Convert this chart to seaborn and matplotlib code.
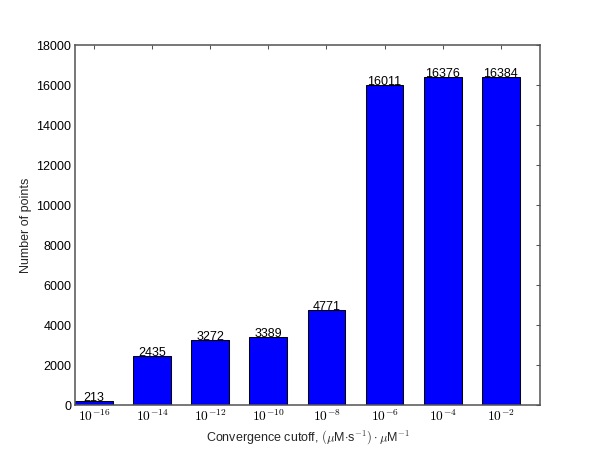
import pandas as pd
import seaborn as sns
import matplotlib.pyplot as plt

# Data
cutoffs = ["$10^{-16}$", "$10^{-14}$", "$10^{-12}$", "$10^{-10}$",
           "$10^{-8}$", "$10^{-6}$", "$10^{-4}$", "$10^{-2}$"]
num_points = [213, 2435, 3272, 3389, 4771, 16011, 16376, 16384]

df = pd.DataFrame({"cutoff": cutoffs, "points": num_points})

# Style (old matplotlib look)
sns.set_theme(style="white")
plt.rcParams['font.family'] = ['Liberation Sans', 'DejaVu Sans']
plt.rcParams['mathtext.fontset'] = 'cm'
plt.rcParams['xtick.direction'] = 'in'
plt.rcParams['ytick.direction'] = 'in'

fig = plt.figure(figsize=(8, 6), dpi=75)
ax = fig.add_axes([0.125, 0.1, 0.775, 0.8])

sns.barplot(data=df, x="cutoff", y="points", color="#0000ff", saturation=1,
            edgecolor="black", linewidth=1, width=0.65, ax=ax)

# Value labels sitting on the bars
for i, v in enumerate(num_points):
    ax.text(i, v, str(v), ha="center", va="baseline", fontsize=12, color="black")

ax.set_xlim(-0.325, 7.675)
ax.set_ylim(0, 18000)
ax.set_yticks(range(0, 18001, 2000))
ax.tick_params(axis="both", which="both", direction="in", top=True, right=True,
               length=4, width=1, color="#555555", labelsize=12, labelcolor="black")
ax.tick_params(axis="x", labelsize=13)
for s in ax.spines.values():
    s.set_color("#555555")
    s.set_linewidth(1.5)
    s.set_visible(True)

ax.set_xlabel(r"Convergence cutoff, $(\mu$M$\cdot$s$^{-1})\cdot\mu$M$^{-1}$", fontsize=12)
ax.set_ylabel("Number of points", fontsize=12)

plt.savefig("out.png", dpi=75)
